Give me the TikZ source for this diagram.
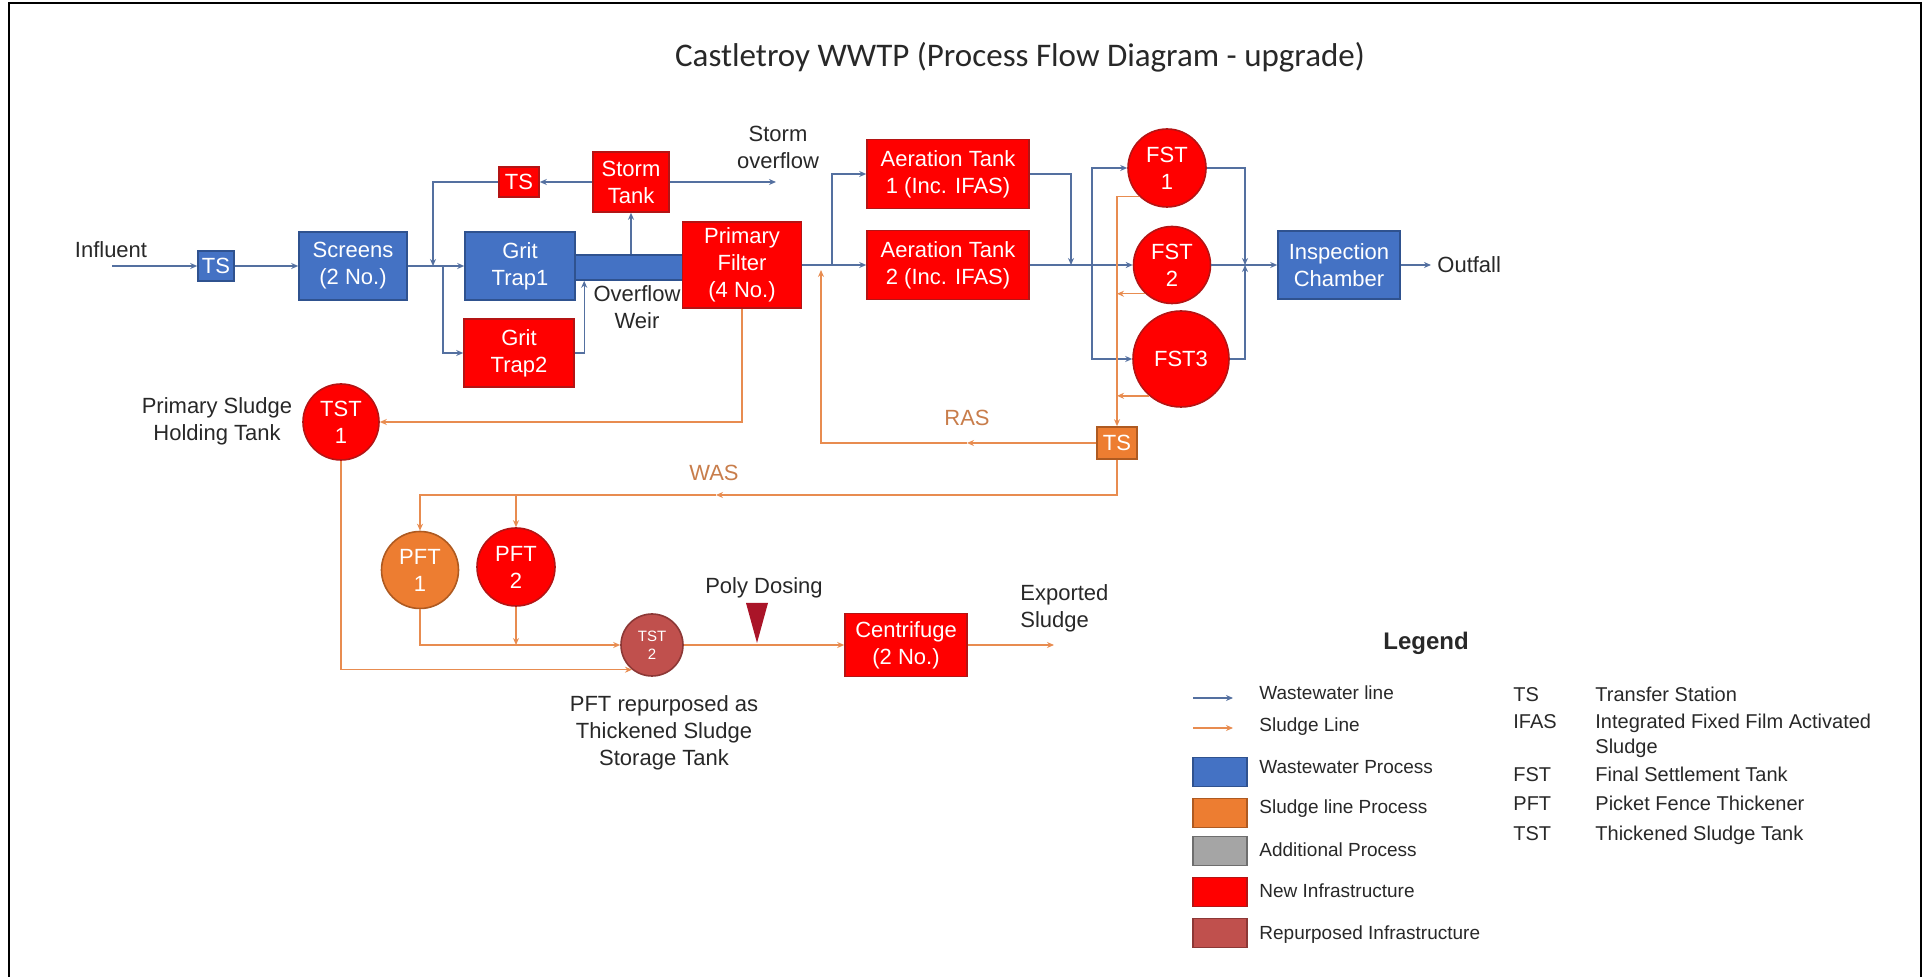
\documentclass[tikz,border=0pt]{standalone}
\usepackage{fontspec}
\setmainfont{Liberation Sans}
\newfontfamily\titlefont{Carlito}
\usepackage{tikz}
\usetikzlibrary{arrows.meta, positioning, calc}

\definecolor{wwblue}{RGB}{68,114,196}
\definecolor{wwedge}{RGB}{47,82,143}
\definecolor{newred}{RGB}{255,0,0}
\definecolor{newedge}{RGB}{180,20,20}
\definecolor{slorange}{RGB}{237,125,49}
\definecolor{sledge}{RGB}{174,90,33}
\definecolor{repred}{RGB}{192,80,77}
\definecolor{repedge}{RGB}{140,56,54}
\definecolor{addgrey}{RGB}{165,165,165}
\definecolor{addedge}{RGB}{110,110,110}
\definecolor{wwline}{RGB}{84,112,160}
\definecolor{slline}{RGB}{232,140,80}
\definecolor{rastxt}{RGB}{200,125,75}
\definecolor{dosered}{RGB}{170,20,40}
\definecolor{txtgrey}{RGB}{40,40,40}

\begin{document}
\begin{tikzpicture}[
  x=0.5pt, y=-0.5pt,
  font=\fontsize{11}{13.5}\selectfont,
  node distance=2pt,
  proc/.style   ={rectangle, draw, line width=0.8pt, align=center, text=white, inner sep=1pt},
  wwbox/.style  ={proc, fill=wwblue, draw=wwedge},
  newbox/.style ={proc, fill=newred, draw=newedge},
  slbox/.style  ={proc, fill=slorange, draw=sledge},
  tank/.style   ={circle, draw=newedge, line width=0.8pt, fill=newred, text=white, align=center, inner sep=0pt},
  sltank/.style ={tank, fill=slorange, draw=sledge},
  reptank/.style={tank, fill=repred, draw=repedge},
  lbl/.style    ={align=center, text=txtgrey, inner sep=1pt},
  ww/.style     ={draw=wwline, line width=0.7pt},
  sl/.style     ={draw=slline, line width=0.7pt},
  wwarr/.style  ={ww, -{Stealth[length=3.5pt, width=3pt]}},
  slarr/.style  ={sl, -{Stealth[length=3.5pt, width=3pt]}},
  swatch/.style ={rectangle, draw, line width=0.8pt, minimum width=27pt, minimum height=14.5pt},
  lgtext/.style ={anchor=base west, inner sep=0pt, text=txtgrey, font=\fontsize{9.5}{11.5}\selectfont},
  abbr/.style   ={anchor=base west, inner sep=0pt, text=txtgrey, align=left, font=\fontsize{10}{12.5}\selectfont}
  ]

  \useasboundingbox (0,0) rectangle (1927,977);
  \draw[line width=1pt] (9,977) -- (9,3) -- (1921,3) -- (1921,977);

  \node[font=\titlefont\fontsize{16.5}{20}\selectfont, text=txtgrey] (title) at (1020,57)
    {Castletroy WWTP (Process Flow Diagram - upgrade)};

  % wastewater line
  \node[lbl] (influent) at (111,250) {Influent};
  \coordinate (inflin) at (112,266);
  \node[wwbox, minimum width=18pt, minimum height=15pt] (ts1) at (216,266) {TS};
  \node[wwbox, minimum width=54pt, minimum height=34pt] (screens) at (353,266) {Screens\\(2 No.)};
  \node[wwbox, minimum width=55pt, minimum height=34pt] (grit1) at (520,266) {Grit\\Trap1};
  \node[newbox, minimum width=55pt, minimum height=34pt] (grit2) at (519,353) {Grit\\Trap2};
  \node[newbox, minimum width=20pt, minimum height=15pt] (tsst) at (519,182) {TS};
  \node[newbox, minimum width=38pt, minimum height=30pt] (storm) at (631,182) {Storm\\Tank};
  \node[wwbox, minimum width=54pt, minimum height=12.5pt] (weir) at (629,267.5) {};
  \node[lbl] (weirlbl) at (637,307) {Overflow\\Weir};
  \node[lbl] (stormovf) at (778,147) {Storm\\overflow};
  \coordinate (sovf) at (776,182);
  \node[newbox, minimum width=59.5pt, minimum height=43pt] (pf) at (742,265) {Primary\\Filter\\(4 No.)};
  \node[newbox, minimum width=81pt, minimum height=34.5pt] (at1) at (948,174) {Aeration Tank\\1 (Inc. IFAS)};
  \node[newbox, minimum width=81pt, minimum height=34.5pt] (at2) at (948,265) {Aeration Tank\\2 (Inc. IFAS)};
  \node[tank, minimum size=39pt] (fst1) at (1167,168) {FST\\1};
  \node[tank, minimum size=38.5pt] (fst2) at (1172,265) {FST\\2};
  \node[tank, minimum size=48pt] (fst3) at (1181,359) {FST3};
  \node[wwbox, minimum width=61pt, minimum height=34pt] (insp) at (1339,265) {Inspection\\Chamber};
  \coordinate (outend) at (1431,265);
  \node[lbl, right=2pt of outend] (outfall) {Outfall};

  \coordinate (j1) at (433,266);
  \coordinate (j2) at (443,266);
  \coordinate (j3) at (832,265);
  \coordinate (j4) at (1071,265);
  \coordinate (j5) at (1092,265);
  \coordinate (j6) at (1245,265);

  \draw[wwarr] (inflin) -- (ts1.west);
  \draw[wwarr] (ts1.east) -- (screens.west);
  \draw[wwarr] (screens.east) -- (grit1.west);
  \draw[wwarr] (j2) |- (grit2.west);
  \draw[wwarr] (storm.west) -- (tsst.east);
  \draw[wwarr] (tsst.west) -| (j1);
  \draw[wwarr] (storm.south |- weir.north) -- (storm.south);
  \draw[wwarr] (grit2.east) -| ([xshift=5pt]weir.south west);
  \draw[wwarr] (storm.east) -- (sovf);
  \draw[wwarr] (pf.east) -- (at2.west);
  \draw[wwarr] (j3) |- (at1.west);
  \draw[wwarr] (at1.east) -| (j4);
  \draw[wwarr] (at2.east) -- (fst2.west);
  \draw[wwarr] (j5) |- (fst1.west);
  \draw[wwarr] (j5) |- (fst3.west);
  \draw[wwarr] (fst1.east) -| (j6);
  \draw[wwarr] (fst3.east) -| (j6);
  \draw[wwarr] (fst2.east) -- (insp.west);
  \draw[wwarr] (insp.east) -- (outend);

  % sludge line
  \node[tank, minimum size=38pt] (tst1) at (341,422) {TST\\1};
  \node[lbl] (holding) at (217,421) {Primary Sludge\\Holding Tank};
  \node[slbox, minimum width=20pt, minimum height=16pt] (tsr) at (1117,443) {TS};
  \node[lbl, text=rastxt] (ras) at (967,418) {RAS};
  \node[lbl, text=rastxt] (was) at (714,473) {WAS};
  \node[sltank, minimum size=38.5pt] (pft1) at (420,570) {PFT\\1};
  \node[tank, minimum size=39pt] (pft2) at (516,567) {PFT\\2};
  \node[reptank, minimum size=31pt, font=\fontsize{7.5}{9}\selectfont] (tst2) at (652,645) {TST\\2};
  \node[newbox, minimum width=61pt, minimum height=31.5pt] (cent) at (906,645) {Centrifuge\\(2 No.)};
  \node[lbl] (polylbl) at (764,588) {Poly Dosing};
  \node[lbl, align=left, anchor=west] (export) at (1018,608) {Exported\\Sludge};
  \node[lbl] (reptxt) at (664,733) {PFT repurposed as\\Thickened Sludge\\Storage Tank};
  \coordinate (expend) at (1054,645);
  \coordinate (rasmid) at (967,443);
  \coordinate (rasin) at (821,270);
  \coordinate (wasmid) at (716,495);
  \coordinate (wasb) at (516,495);

  \draw[slarr] (pf.south) |- (tst1.east);
  \draw[slarr] (fst1.226) -| (tsr.north);
  \draw[slarr] (fst2.227) -- (fst2.227 -| tsr.north);
  \draw[slarr] (fst3.229) -- (fst3.229 -| tsr.north);
  \draw[slarr] (tsr.west) -- (rasmid);
  \draw[slarr] (rasmid) -| (rasin);
  \draw[slarr] (tsr.south) |- (wasmid);
  \draw[slarr] (wasmid) -| (pft1.north);
  \draw[slarr] (wasb) -- (pft2.north);
  \draw[slarr] (pft1.south) |- (tst2.west);
  \draw[slarr] (pft2.south) -- (pft2.south |- tst2.west);
  \draw[slarr] (tst1.south) |- (tst2.231);
  \draw[slarr] (tst2.east) -- (cent.west);
  \draw[slarr] (cent.east) -- (expend);
  \fill[dosered] (746,603) -- (768,603) -- (757,643) -- cycle;

  % legend
  \node[font=\bfseries\fontsize{12}{14}\selectfont, text=txtgrey] (lgtitle) at (1426,643) {Legend};
  \coordinate (lgwwa) at (1193,698);
  \coordinate (lgwwb) at (1233,698);
  \coordinate (lgsla) at (1193,728);
  \coordinate (lgslb) at (1233,728);
  \draw[wwarr] (lgwwa) -- (lgwwb);
  \draw[slarr] (lgsla) -- (lgslb);
  \node[lgtext] (lgwwl) at (1259,700) {Wastewater line};
  \node[lgtext] (lgsll) at (1259,732) {Sludge Line};
  \node[swatch, fill=wwblue, draw=wwedge] (lgww) at (1220,772) {};
  \node[swatch, fill=slorange, draw=sledge] (lgsl) at (1220,813) {};
  \node[swatch, fill=addgrey, draw=addedge] (lgadd) at (1220,851) {};
  \node[swatch, fill=newred, draw=newedge] (lgnew) at (1220,892) {};
  \node[swatch, fill=repred, draw=repedge] (lgrep) at (1220,933) {};
  \node[lgtext] (lgwwt) at (1259,773) {Wastewater Process};
  \node[lgtext] (lgslt) at (1259,813) {Sludge line Process};
  \node[lgtext] (lgaddt) at (1259,856) {Additional Process};
  \node[lgtext] (lgnewt) at (1259,897) {New Infrastructure};
  \node[lgtext] (lgrept) at (1259,939) {Repurposed Infrastructure};

  \node[abbr] (kts) at (1513,702) {TS};
  \node[abbr] (kifas) at (1513,729) {IFAS};
  \node[abbr] (kfst) at (1513,782) {FST};
  \node[abbr] (kpft) at (1513,810) {PFT};
  \node[abbr] (ktst) at (1513,840) {TST};
  \node[abbr] (dts) at (1595,702) {Transfer Station};
  \node[abbr] (difas) at (1595,754) {Integrated Fixed Film Activated\\Sludge};
  \node[abbr] (dfst) at (1595,782) {Final Settlement Tank};
  \node[abbr] (dpft) at (1595,810) {Picket Fence Thickener};
  \node[abbr] (dtst) at (1595,840) {Thickened Sludge Tank};

\end{tikzpicture}
\end{document}
